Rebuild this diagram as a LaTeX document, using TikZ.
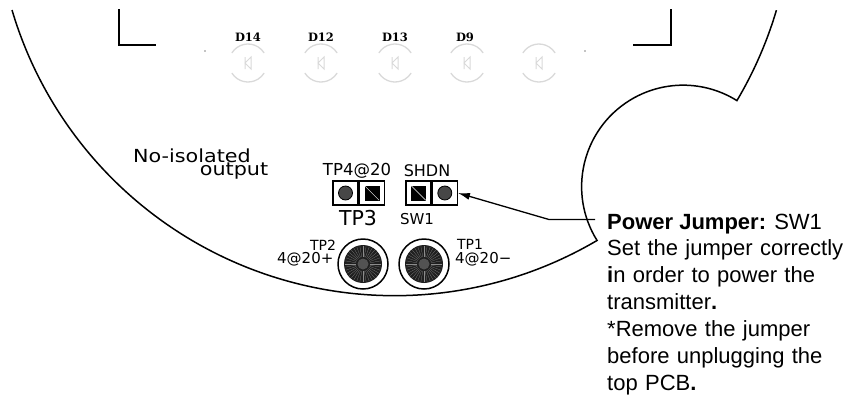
\documentclass[tikz,border=0pt]{standalone}
\usepackage{fontspec}
\usetikzlibrary{positioning,arrows.meta}
\setmainfont{Liberation Sans}
\newfontfamily\pcbfont{DejaVu Sans}
\newfontfamily\silkfont{DejaVu Serif}
\newfontfamily\widefont[FakeStretch=1.15]{DejaVu Sans}
\tikzset{
  outline/.style={line width=1.5pt,black},
  pcbtext/.style={inner sep=0pt,font=\pcbfont\fontsize{#1}{#1}\selectfont},
  ledtext/.style={inner sep=0pt,font=\silkfont\bfseries\fontsize{11.5}{11.5}\selectfont},
  ledmark/.style={line width=1pt,black!15},
  isotext/.style={inner sep=0pt,anchor=base,font=\widefont\fontsize{18}{18}\selectfont},
  pincell/.style={draw,line width=1.3pt,minimum width=25pt,minimum height=24pt,inner sep=0pt},
  pinround/.style={circle,draw,line width=.8pt,fill=black!72,minimum size=14pt,inner sep=0pt},
  pinsquare/.style={draw,line width=.6pt,fill=black,minimum size=14pt,inner sep=0pt},
  testring/.style={circle,draw,line width=1.5pt,minimum size=50pt,inner sep=0pt},
  notetext/.style={inner sep=0pt,font=\fontsize{22}{27}\selectfont}
}
\begin{document}
\begin{tikzpicture}[x=1pt,y=-1pt]
  \useasboundingbox (0,0) rectangle (859,400);

  % board edge
  \draw[outline] (12,10) arc[start angle=163.5,end angle=59.5,radius=399]
    arc[start angle=148,end angle=302,radius=101.5]
    arc[start angle=30.7,end angle=16.5,radius=399];

  % corners
  \draw[outline] (119,9) -- (119,45) -- (156,45);
  \draw[outline] (671,9) -- (671,45) -- (633,45);
  \fill (205,51) circle (.7);
  \fill (585,51) circle (.7);

  % LEDs
  \foreach \lx in {248,321,395,467,539} {
    \draw[ledmark,line width=1.3pt] (\lx,63) +(-148:19) arc[start angle=-148,end angle=-32,radius=19];
    \draw[ledmark,line width=1.3pt] (\lx,63) +(148:19) arc[start angle=148,end angle=32,radius=19];
    \draw[ledmark] (\lx-3,57) -- (\lx-3,69) (\lx+3,57) -- (\lx-3,63) -- (\lx+3,69) -- cycle;
  }
  \node[ledtext] (d14) at (248,37) {D14};
  \node[ledtext] (d12) at (321,37) {D12};
  \node[ledtext] (d13) at (395,37) {D13};
  \node[ledtext] (d9) at (465,37) {D9};

  % isolation label
  \node[isotext] (noiso) at (192,162) {No-isolated};
  \node[isotext] (output) at (234,175) {output};

  % TP3
  \node[pincell] (tpa) at (345.5,193) {};
  \node[pincell,right=0pt of tpa] (tpb) {};
  \node[pinround] at (tpa) {};
  \node[pinsquare] (tpsq) at (tpb) {};
  \draw[white,line width=.4pt] (tpsq.north west) -- (tpsq.south east);
  \node[pcbtext=16.5] (tp4) at (357,171) {TP4@20};
  \node[pcbtext=20.5] (tp3) at (358,218) {TP3};

  % SW1
  \node[pincell] (swa) at (418.5,193) {};
  \node[pincell,right=0pt of swa] (swb) {};
  \node[pinsquare] (swsq) at (swa) {};
  \draw[white,line width=.4pt] (swsq.north west) -- (swsq.south east);
  \node[pinround] at (swb) {};
  \node[pcbtext=16] (shdn) at (427,171) {SHDN};
  \node[pcbtext=15] (sw1) at (417,219) {SW1};

  % test points
  \foreach \tname/\tx in {tpleft/363,tpright/424} {
    \node[testring] (\tname) at (\tx,264) {};
    \fill[black!88] (\tx,264) circle (19);
    \foreach \ang in {0,10,...,350}
      \draw[black!45,line width=.2pt] (\tx,264) +(\ang:7) -- +(\ang:18);
    \fill[black!68] (\tx,264) circle (5.5);
  }
  \node[pcbtext=14] (tp2) at (323,245) {TP2};
  \node[pcbtext=15,anchor=west] (plus) at (277,259) {4@20+};
  \node[pcbtext=14] (tp1) at (470,244) {TP1};
  \node[pcbtext=15,anchor=west] (minus) at (455,259) {4@20−};

  % power jumper note
  \node[notetext,anchor=base west,inner xsep=12pt] (power) at (595,229) {\textbf{Power Jumper:} SW1};
  \coordinate (elbow) at (549,219.5);
  \draw[line width=1.3pt,-{Latex[length=12pt,width=7pt]}] (power.west |- elbow) -- (elbow) -- (swb.east);
  \node[notetext,align=left,text width=250pt,anchor=north west] (body) at (607,239) {%
    Set the jumper correctly\\
    \textbf{i}n order to power the\\
    transmitter\textbf{.}\\{}
    *Remove the jumper\\
    before unplugging the\\
    top PCB\textbf{.}};
\end{tikzpicture}
\end{document}
